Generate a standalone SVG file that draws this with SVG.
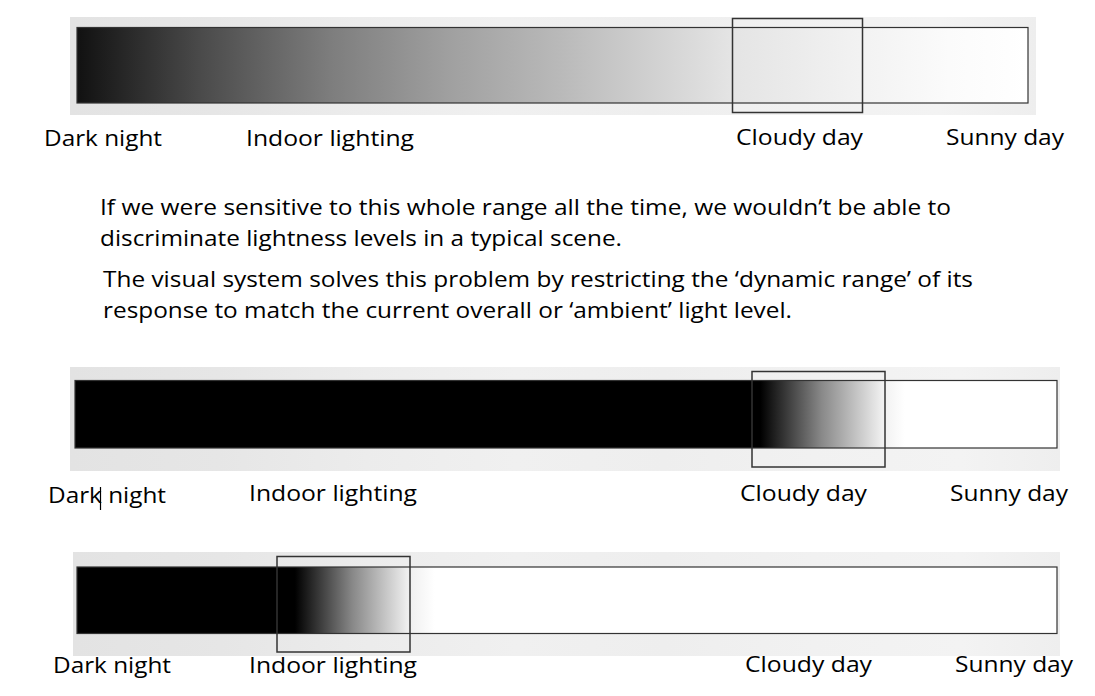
<svg xmlns="http://www.w3.org/2000/svg" width="1095" height="696" viewBox="0 0 1095 696">
<defs>
<linearGradient id="panel" x1="0" y1="0" x2="1" y2="0">
<stop offset="0" stop-color="#e3e3e3"/>
<stop offset="0.15" stop-color="#e6e6e6"/>
<stop offset="0.3" stop-color="#ececec"/>
<stop offset="0.45" stop-color="#f0f0f0"/>
<stop offset="0.6" stop-color="#eeeeee"/>
<stop offset="0.75" stop-color="#f1f1f1"/>
<stop offset="0.9" stop-color="#f3f3f3"/>
<stop offset="1" stop-color="#eeeeee"/>
</linearGradient>
<linearGradient id="g1" x1="0" y1="0" x2="1" y2="0">
<stop offset="0" stop-color="#111111"/>
<stop offset="0.129" stop-color="#4a4a4a"/>
<stop offset="0.269" stop-color="#7e7e7e"/>
<stop offset="0.392" stop-color="#a0a0a0"/>
<stop offset="0.507" stop-color="#b9b9b9"/>
<stop offset="0.602" stop-color="#d0d0d0"/>
<stop offset="0.686" stop-color="#e4e4e4"/>
<stop offset="0.812" stop-color="#f1f1f1"/>
<stop offset="0.917" stop-color="#fbfbfb"/>
<stop offset="1" stop-color="#ffffff"/>
</linearGradient>
<linearGradient id="g2" x1="0" y1="0" x2="1" y2="0">
<stop offset="0" stop-color="#000000"/>
<stop offset="0.698" stop-color="#000000"/>
<stop offset="0.76" stop-color="#888888"/>
<stop offset="0.822" stop-color="#f0f0f0"/>
<stop offset="0.845" stop-color="#ffffff"/>
<stop offset="1" stop-color="#ffffff"/>
</linearGradient>
<linearGradient id="g3" x1="0" y1="0" x2="1" y2="0">
<stop offset="0" stop-color="#000000"/>
<stop offset="0.2224" stop-color="#000000"/>
<stop offset="0.281" stop-color="#888888"/>
<stop offset="0.337" stop-color="#eeeeee"/>
<stop offset="0.365" stop-color="#ffffff"/>
<stop offset="1" stop-color="#ffffff"/>
</linearGradient>
<style>
.panel{fill:url(#panel);}
.bar{stroke:#333;stroke-width:1.2;}
.win{fill:none;stroke:#333;stroke-width:1.5;}
text{font-family:"Open Sans","Noto Sans","Liberation Sans",sans-serif;font-size:22px;fill:#000;}
</style>
</defs>
<rect width="1095" height="696" fill="#ffffff"/>

<g id="scale-full">
<rect class="panel" x="70" y="17" width="966" height="98"/>
<rect class="bar" x="77" y="27.5" width="951" height="75.5" fill="url(#g1)"/>
<rect class="win" x="732.5" y="18.5" width="130" height="94"/>
<text x="44" y="146" textLength="118" lengthAdjust="spacingAndGlyphs">Dark night</text>
<text x="246" y="146" textLength="168" lengthAdjust="spacingAndGlyphs">Indoor lighting</text>
<text x="736" y="145" textLength="127" lengthAdjust="spacingAndGlyphs">Cloudy day</text>
<text x="946" y="145" textLength="118" lengthAdjust="spacingAndGlyphs">Sunny day</text>
</g>

<g id="explanation">
<text x="100" y="215" textLength="851" lengthAdjust="spacingAndGlyphs">If we were sensitive to this whole range all the time, we wouldn’t be able to</text>
<text x="100" y="246" textLength="522" lengthAdjust="spacingAndGlyphs">discriminate lightness levels in a typical scene.</text>
<text x="103" y="287" textLength="870" lengthAdjust="spacingAndGlyphs">The visual system solves this problem by restricting the ‘dynamic range’ of its</text>
<text x="103" y="318" textLength="689" lengthAdjust="spacingAndGlyphs">response to match the current overall or ‘ambient’ light level.</text>
</g>

<g id="scale-cloudy">
<rect class="panel" x="70" y="367" width="990" height="104"/>
<rect class="bar" x="75" y="380.5" width="982" height="67.5" fill="url(#g2)"/>
<rect class="win" x="752" y="371.5" width="133" height="95.5"/>
<text x="48" y="503" textLength="118" lengthAdjust="spacingAndGlyphs">Dark night</text>
<line x1="100.5" y1="487" x2="100.5" y2="510" stroke="#000" stroke-width="1.2"/>
<text x="249" y="501" textLength="168" lengthAdjust="spacingAndGlyphs">Indoor lighting</text>
<text x="740" y="501" textLength="127" lengthAdjust="spacingAndGlyphs">Cloudy day</text>
<text x="950" y="501" textLength="118" lengthAdjust="spacingAndGlyphs">Sunny day</text>
</g>

<g id="scale-indoor">
<rect class="panel" x="73" y="552" width="987" height="104"/>
<rect class="bar" x="77" y="567" width="980" height="66.5" fill="url(#g3)"/>
<rect class="win" x="277" y="556.5" width="133" height="95.5"/>
<text x="53" y="673" textLength="118" lengthAdjust="spacingAndGlyphs">Dark night</text>
<text x="249" y="673" textLength="168" lengthAdjust="spacingAndGlyphs">Indoor lighting</text>
<text x="745" y="672" textLength="127" lengthAdjust="spacingAndGlyphs">Cloudy day</text>
<text x="955" y="672" textLength="118" lengthAdjust="spacingAndGlyphs">Sunny day</text>
</g>
</svg>
